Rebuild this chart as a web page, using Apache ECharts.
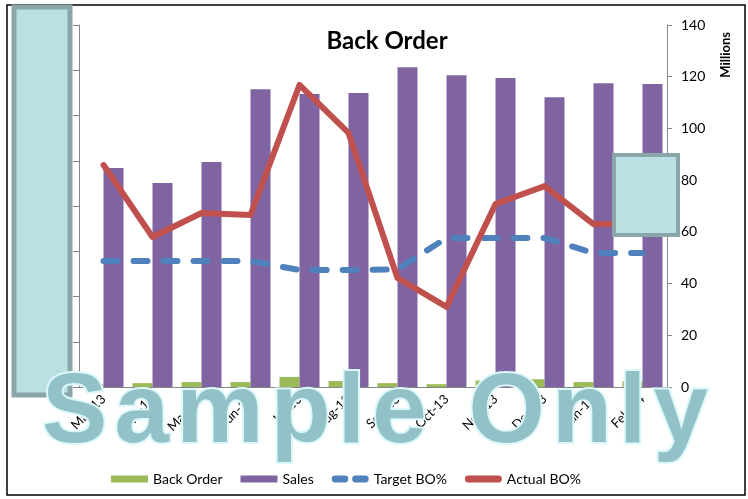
<!DOCTYPE html>
<html>
<head>
<meta charset="utf-8">
<title>Back Order</title>
<script src="https://cdn.jsdelivr.net/npm/echarts@6/dist/echarts.min.js"></script>
<style>
  html, body { margin: 0; padding: 0; background: #fff; }
  #chart { width: 748px; height: 499px; }
</style>
</head>
<body>
<div id="chart"></div>
<script>
  // data
  var months = ['Mar-13', 'Apr-13', 'May-13', 'Jun-13', 'Jul-13', 'Aug-13',
                'Sep-13', 'Oct-13', 'Nov-13', 'Dec-13', 'Jan-14', 'Feb-14'];
  // millions (right axis)
  var backOrder = [1.2, 1.5, 1.9, 1.9, 3.9, 2.3, 1.5, 1.1, 2.5, 3.0, 1.9, 2.3];
  var sales = [84.7, 78.9, 87.0, 115.2, 113.3, 113.7, 123.7, 120.6, 119.5, 112.1, 117.5, 117.2];
  // percent (left axis, labels hidden under the box)
  var targetBO = [5.57, 5.57, 5.57, 5.57, 5.17, 5.17, 5.2, 6.59, 6.59, 6.59, 5.92, 5.92];
  var actualBO = [9.81, 6.63, 7.69, 7.6, 13.35, 11.23, 4.82, 3.54, 8.09, 8.88, 7.2, 7.2];
  var millionTicks = [0, 140, 20];

  var font = 'Lato, "Open Sans", sans-serif';
  var chart = echarts.init(document.getElementById('chart'));

  // two rounded dashes for the target legend key
  var dashIcon = 'path://M3.5,0 h10 a3.5,3.5 0 0 1 0,7 h-10 a3.5,3.5 0 0 1 0,-7 z' +
                 ' M24.5,0 h10 a3.5,3.5 0 0 1 0,7 h-10 a3.5,3.5 0 0 1 0,-7 z';
  var barIcon = 'path://M3.5,0 h31 a3.5,3.5 0 0 1 0,7 h-31 a3.5,3.5 0 0 1 0,-7 z';

  // watermark, letter spaced by hand
  var wmText = 'Sample Only';
  var wmFont = 'bold 98px "Liberation Sans", Arial, sans-serif';
  var ctx = document.createElement('canvas').getContext('2d');
  ctx.font = wmFont;
  var widths = wmText.split('').map(function (c) { return ctx.measureText(c).width; });
  var sum = widths.reduce(function (a, b) { return a + b; }, 0);
  var wmSpacing = (666 - sum) / (wmText.length - 1);
  var wmX = 42;
  var watermark = [];
  wmText.split('').forEach(function (c, i) {
    if (c !== ' ') {
      watermark.push({
        type: 'text', x: wmX, y: 464, z: 120, silent: true,
        style: {
          text: c, font: wmFont,
          textAlign: 'left', textVerticalAlign: 'bottom',
          fill: '#92C2C8', stroke: '#DDF8FB', lineWidth: 4,
          shadowBlur: 8, shadowColor: '#B5EEF5'
        }
      });
    }
    wmX += widths[i] + wmSpacing;
  });

  var option = {
    animation: false,
    title: {
      text: 'Back Order',
      left: 382, top: 24, textAlign: 'center',
      textStyle: { fontFamily: font, fontSize: 24, fontWeight: 'bold', color: '#000' }
    },
    grid: { left: 79, right: 81, top: 25, bottom: 112 },
    legend: {
      left: 106, top: 467,
      itemWidth: 37, itemHeight: 7, itemGap: 18,
      textStyle: { fontFamily: font, fontSize: 14, color: '#000' },
      data: [
        { name: 'Back Order', icon: 'rect' },
        { name: 'Sales', icon: 'rect' },
        { name: 'Target BO%', icon: dashIcon },
        { name: 'Actual BO%', icon: barIcon }
      ]
    },
    xAxis: {
      type: 'category',
      data: months,
      axisLine: { lineStyle: { color: '#868686' } },
      axisTick: { length: 5, lineStyle: { color: '#868686' } },
      axisLabel: { rotate: 45, fontFamily: font, fontSize: 13, color: '#000', margin: 10 }
    },
    yAxis: [
      {
        type: 'value', position: 'left',
        min: 0, max: 16, interval: 2,
        axisLine: { show: true, lineStyle: { color: '#868686' } },
        axisTick: { show: true, length: 6, lineStyle: { color: '#868686' } },
        axisLabel: { show: false },
        splitLine: { show: false }
      },
      {
        type: 'value', position: 'right',
        min: millionTicks[0], max: millionTicks[1], interval: millionTicks[2],
        axisLine: { show: true, lineStyle: { color: '#868686' } },
        axisTick: { show: true, length: 5, lineStyle: { color: '#868686' } },
        axisLabel: { fontFamily: font, fontSize: 14, color: '#000', margin: 14 },
        splitLine: { show: false }
      }
    ],
    series: [
      {
        name: 'Back Order', type: 'bar', yAxisIndex: 1,
        data: backOrder, barWidth: 20, barGap: '0%',
        itemStyle: { color: '#9BBB59' }
      },
      {
        name: 'Sales', type: 'bar', yAxisIndex: 1,
        data: sales, barWidth: 20, barGap: '0%',
        itemStyle: { color: '#8064A2' }
      },
      {
        name: 'Target BO%', type: 'line', yAxisIndex: 0,
        data: targetBO, symbol: 'none',
        lineStyle: { color: '#4F81BD', width: 6, type: [14, 16], cap: 'round', join: 'round' },
        itemStyle: { color: '#4F81BD' }
      },
      {
        name: 'Actual BO%', type: 'line', yAxisIndex: 0,
        data: actualBO, symbol: 'none',
        lineStyle: { color: '#C0504D', width: 6, cap: 'round', join: 'round' },
        itemStyle: { color: '#C0504D' }
      }
    ],
    graphic: [
      {
        type: 'rect', z: 100, silent: true,
        shape: { x: 7, y: 5, width: 738, height: 490 },
        style: { fill: 'none', stroke: '#000', lineWidth: 1.5 }
      },
      {
        type: 'text', z: 100, left: 719, top: 32, rotation: Math.PI / 2,
        style: { text: 'Millions', font: 'bold 13px ' + font, fill: '#000' }
      },
      {
        type: 'rect', z: 110, silent: true,
        shape: { x: 14, y: 7, width: 56, height: 388 },
        style: { fill: '#BBE0E3', stroke: '#8AA6A8', lineWidth: 5 }
      },
      {
        type: 'rect', z: 110, silent: true,
        shape: { x: 614, y: 155, width: 64, height: 80 },
        style: { fill: '#BBE0E3', stroke: '#8AA6A8', lineWidth: 4 }
      },
      {
        type: 'group', z: 120, silent: true,
        children: watermark
      }
    ]
  };
  chart.setOption(option);
</script>
</body>
</html>
